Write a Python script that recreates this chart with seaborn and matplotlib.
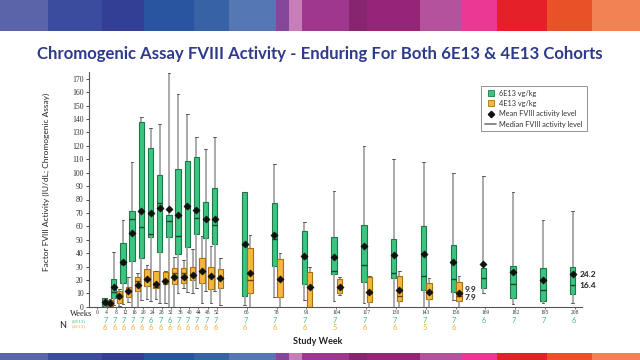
import numpy as np
import pandas as pd
import matplotlib
matplotlib.use("Agg")
import matplotlib.pyplot as plt
import seaborn as sns
from matplotlib.lines import Line2D
from matplotlib.patches import Rectangle
import matplotlib.transforms as mtransforms

# ---------------- data ----------------
weeks_g = [4, 8, 12, 16, 20, 24, 28, 32, 36, 40, 44, 48, 52,
           65, 78, 91, 104, 117, 130, 143, 156, 169, 182, 195, 208]
g_min = [0, 1, 2, 0, 5, 4, 3, 0, 10, 11, 14, 12, 12,
         1, 7.5, 5, 4.5, 3, 0, 0, 5, 10, 2, 2.5, 3]
g_q1 = [0.5, 6.7, 17.9, 34, 36.6, 51.7, 40.5, 52.3, 39.5, 44.8, 54, 50.9, 46.9,
        8.3, 30.6, 16.7, 24.6, 18.2, 21.4, 12.4, 11.2, 14.2, 6.2, 4.5, 9.5]
g_med = [2, 11, 32, 65.4, 59.2, 54.4, 77.6, 64.1, 52.8, 74, 66.2, 65, 61,
         46, 50.5, 36.1, 26.6, 30.9, 24.9, 23, 20.4, 21.1, 16.9, 12.4, 16.4]
g_q3 = [6.5, 20.6, 47.3, 71.4, 138.1, 118.2, 98, 68.4, 102.4, 109, 112, 78, 88.6,
        85.6, 77.4, 56.5, 51.8, 60.7, 50.8, 60.2, 46, 28.6, 30.6, 29.1, 29.9]
g_max = [6.8, 40.5, 64.7, 108, 141.4, 133.2, 136, 174.2, 158.7, 143.6, 126.7, 117.5, 126.7,
         85.8, 106.7, 63, 86.1, 119.9, 110, 108.1, 100, 97.3, 85.3, 64.5, 71.4]
g_mean = [3.5, 15, 33.3, 54.8, 71.7, 69.9, 74, 72.8, 68.3, 74.8, 71.8, 65.8, 65.2,
          46.8, 53.3, 38.1, 36.8, 45.3, 38.6, 39.3, 33.3, 31.9, 25.6, 19.9, 24.2]
g_n = [7, 7, 7, 7, 7, 6, 7, 6, 7, 7, 7, 7, 7,
       7, 7, 7, 7, 7, 7, 7, 7, 6, 7, 7, 6]

weeks_o = [4, 8, 12, 16, 20, 24, 28, 32, 36, 40, 44, 48, 52,
           65, 78, 91, 104, 117, 130, 143, 156]
o_min = [0, 0.5, 3.7, 0, 5.5, 5.5, 2.5, 0, 13.7, 10.5, 2.5, 2.5, 1.2,
         0, 0, 0, 8.5, 0, 0, 0, 0]
o_q1 = [0.3, 2.5, 7.5, 11.7, 15.4, 14, 17.2, 17.3, 17.6, 20, 17.5, 13, 14,
        10, 7, 0, 10.4, 3.5, 4.5, 5.5, 4.2]
o_med = [1.5, 7, 12, 19, 20, 15, 20, 25.5, 24.9, 24.5, 26, 23, 21.4,
         19.9, 20, 14, 15.4, 10, 8.2, 11, 7.9]
o_q3 = [5, 12, 15, 21.9, 27.9, 26.9, 26.2, 29.2, 29, 30, 36, 29.4, 27.9,
        44.1, 35.4, 25.9, 20.4, 21.9, 23.1, 17.4, 18.4]
o_max = [5.5, 13.5, 21.9, 24.9, 31.4, 27, 26.4, 36.8, 34.8, 43, 52.4, 45, 36.5,
         53.3, 39.9, 29.6, 22.4, 22.9, 26.6, 21.1, 23.1]
o_mean = [2.5, 8, 12, 16, 20.7, 17, 19.4, 22.5, 22.2, 23.8, 26.3, 23, 21.3,
          24.8, 20.7, 14.9, 14.9, 11, 12.4, 11.2, 9.9]
o_n = [6, 6, 6, 6, 6, 6, 6, 6, 6, 6, 6, 6, 6,
       6, 6, 6, 5, 6, 6, 5, 6]

tick_weeks = [0, 4, 8, 12, 16, 20, 24, 28, 32, 36, 40, 44, 48, 52,
              65, 78, 91, 104, 117, 130, 143, 156, 169, 182, 195, 208]

title = "Chromogenic Assay FVIII Activity - Enduring For Both 6E13 & 4E13 Cohorts"
band_edges = [0, 48, 102, 144, 194, 229, 276, 289, 302, 349, 367, 420, 462, 497, 547, 592, 640]
band_colors = ["#5b64a9", "#3b4b9d", "#333f95", "#2955a0", "#3763a5", "#5577b3", "#84479a",
               "#c67db8", "#a0378f", "#872571", "#962577", "#b4529e", "#ea3894", "#e62028",
               "#e95128", "#f28254"]

GREEN = "#3cc582"
GREEN_EDGE = "#1c7a47"
ORANGE = "#f4b73e"
ORANGE_EDGE = "#a8700f"
GREEN_TXT = "#3bbf88"
ORANGE_TXT = "#efb12e"
OFF_G, OFF_O = -0.9, 1.5

# ---------------- figure ----------------
sns.set_theme(style="white")
plt.rcParams['font.family'] = ['Lato', 'DejaVu Sans']

W, H = 640, 360
fig = plt.figure(figsize=(6.4, 3.6), dpi=100)
fig.patch.set_facecolor("white")

# decorative bands
for i, c in enumerate(band_colors):
    x0 = band_edges[i] / W
    w = (band_edges[i + 1] - band_edges[i]) / W
    fig.add_artist(Rectangle((x0, 1 - 31 / H), w, 31 / H, transform=fig.transFigure,
                             facecolor=c, edgecolor="none", zorder=0))
    fig.add_artist(Rectangle((x0, 0), w, 7 / H, transform=fig.transFigure,
                             facecolor=c, edgecolor="none", zorder=0))

fig.text(0.5, 1 - 59.5 / H, title, ha="center", va="baseline", fontsize=12.1,
         fontweight="bold", color="#2e3a8c", family=["Lato", "DejaVu Sans"])

ax = fig.add_axes([89 / W, 1 - 306.7 / H, (582 - 89) / W, (306.7 - 72.2) / H])


def long_table(weeks, mn, q1, med, q3, mx, offset):
    rows = []
    for w, a, b, c, d, e in zip(weeks, mn, q1, med, q3, mx):
        for v in (a, b, c, d, e):
            rows.append({"pos": w + offset, "value": v})
    return pd.DataFrame(rows)


df_g = long_table(weeks_g, g_min, g_q1, g_med, g_q3, g_max, OFF_G)
df_o = long_table(weeks_o, o_min, o_q1, o_med, o_q3, o_max, OFF_O)

for df, fc, ec in ((df_g, GREEN, GREEN_EDGE), (df_o, ORANGE, ORANGE_EDGE)):
    sns.boxplot(data=df, x="pos", y="value", native_scale=True, orient="x",
                whis=(0, 100), width=0.58, color=fc, saturation=1,
                linecolor=ec, linewidth=0.8, showfliers=False, ax=ax,
                whiskerprops=dict(color="#9c9c9c", linewidth=1.2),
                capprops=dict(color="#555555", linewidth=0.7),
                medianprops=dict(color="#17452c" if fc == GREEN else "#6b4305", linewidth=1.0))

sns.scatterplot(x=np.array(weeks_g) + OFF_G, y=g_mean, marker="D", s=14,
                color="#111111", edgecolor="#111111", linewidth=0.3, ax=ax, zorder=6, legend=False)
sns.scatterplot(x=np.array(weeks_o) + OFF_O, y=o_mean, marker="D", s=14,
                color="#111111", edgecolor="#111111", linewidth=0.3, ax=ax, zorder=6, legend=False)

ax.set_xlim(-3.7, 211.1)
ax.set_ylim(0, 175)
ax.set_xlabel("")
ax.set_ylabel("")
ax.set_yticks(range(0, 171, 10))
ax.set_xticks(tick_weeks)
ax.set_xticklabels([str(t) for t in tick_weeks])
ax.tick_params(axis="y", length=2.5, width=0.6, pad=1.5, labelsize=5.6, colors="#333333", left=True)
ax.tick_params(axis="x", length=1.5, width=0.5, pad=0.6, labelsize=4.0, colors="#333333", bottom=True)
for lbl in ax.get_yticklabels() + ax.get_xticklabels():
    lbl.set_fontfamily("Liberation Serif")
for s in ("top", "right"):
    ax.spines[s].set_visible(False)
for s in ("left", "bottom"):
    ax.spines[s].set_color("#555555")
    ax.spines[s].set_linewidth(0.8)
ax.grid(False)

# value annotations
ax.text(209.9, 24.4, "24.2", fontsize=6, fontweight="bold", ha="left", va="center", color="#222222")
ax.text(209.9, 16.0, "16.4", fontsize=6, fontweight="bold", ha="left", va="center", color="#222222")
ax.text(159.8, 12.5, "9.9", fontsize=6, fontweight="bold", ha="left", va="center", color="#222222")
ax.text(159.8, 6.7, "7.9", fontsize=6, fontweight="bold", ha="left", va="center", color="#222222")

# N rows
trans = mtransforms.blended_transform_factory(ax.transData, fig.transFigure)
for w, n in zip(weeks_g, g_n):
    ax.text(w - 0.6, 1 - 320.5 / H, str(n), transform=trans, ha="center", va="center",
            fontsize=5.4, color=GREEN_TXT)
for w, n in zip(weeks_o, o_n):
    ax.text(w - 0.6, 1 - 327.5 / H, str(n), transform=trans, ha="center", va="center",
            fontsize=5.4, color=ORANGE_TXT)

fig.text(70 / W, 1 - 314.5 / H, "Weeks", ha="left", va="center", fontsize=6.0,
         family="Liberation Serif", color="#222222")
fig.text(59 / W, 1 - 325 / H, "N", ha="left", va="center", fontsize=6.5, color="#222222")
fig.text(72 / W, 1 - 320.8 / H, "(6E13)", ha="left", va="center", fontsize=3.6,
         family="Liberation Serif", color=GREEN_TXT)
fig.text(72 / W, 1 - 326.3 / H, "(4E13)", ha="left", va="center", fontsize=3.6,
         family="Liberation Serif", color=ORANGE_TXT)

fig.text(318 / W, 1 - 342 / H, "Study Week", ha="center", va="center", fontsize=6.5,
         fontweight="bold", color="#222222")
fig.text(46.5 / W, 1 - 182 / H, "Factor FVIII Activity (IU/dL; Chromogenic Assay)",
         ha="center", va="center", rotation=90, fontsize=6, color="#222222")

# legend
handles = [
    Line2D([], [], marker="s", linestyle="none", markersize=4.5, markerfacecolor=GREEN,
           markeredgecolor=GREEN_EDGE, markeredgewidth=0.6),
    Line2D([], [], marker="s", linestyle="none", markersize=4.5, markerfacecolor=ORANGE,
           markeredgecolor=ORANGE_EDGE, markeredgewidth=0.6),
    Line2D([], [], marker="D", linestyle="none", markersize=3.2, markerfacecolor="#111111",
           markeredgecolor="#111111"),
    Line2D([], [], color="#777777", linewidth=1.2),
]
labels = ["6E13 vg/kg", "4E13 vg/kg", "Mean FVIII activity level", "Median FVIII activity level"]
leg = fig.legend(handles, labels, loc="upper left", bbox_to_anchor=(481 / W, 1 - 86 / H),
                 fontsize=5.3, frameon=True, fancybox=False, borderpad=0.5,
                 handlelength=1.6, handletextpad=0.4, labelspacing=0.45, borderaxespad=0)
leg.get_frame().set_edgecolor("#777777")
leg.get_frame().set_linewidth(0.7)
for t in leg.get_texts():
    t.set_color("#333333")

fig.savefig("out.png", dpi=100)
